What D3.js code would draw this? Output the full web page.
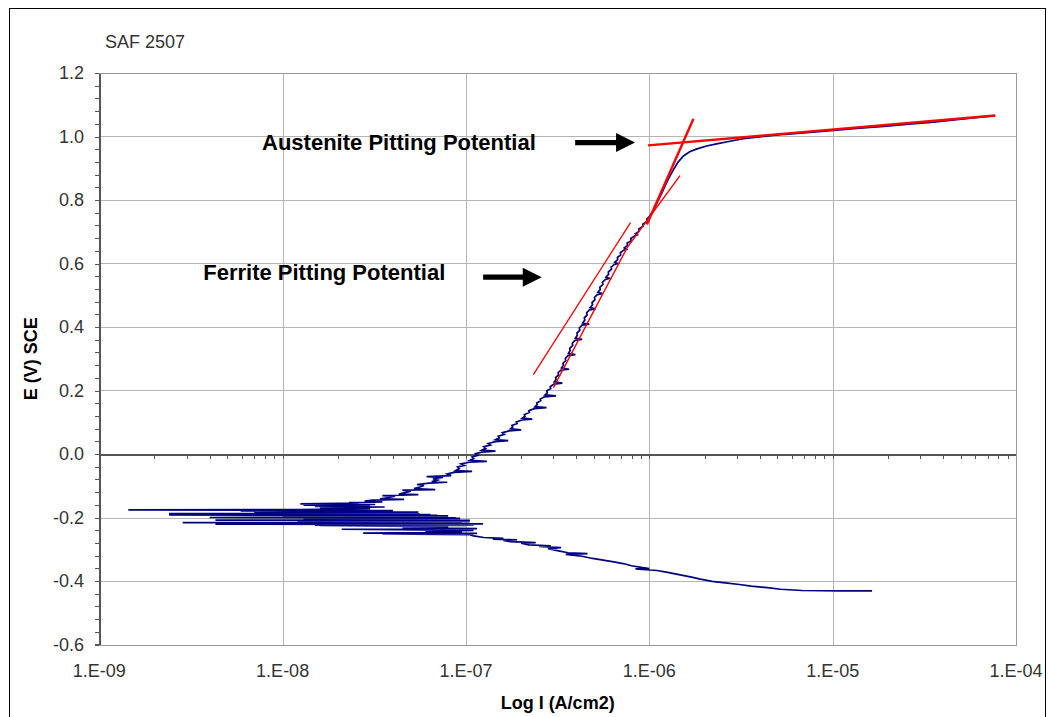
<!DOCTYPE html>
<html>
<head>
<meta charset="utf-8">
<script src="https://cdn.jsdelivr.net/npm/d3@7"></script>
<style>
  html, body { margin: 0; padding: 0; background: #fff; }
  svg { display: block; font-family: "Liberation Sans", Arial, sans-serif; }
</style>
</head>
<body>
<svg id="chart" width="1049" height="717"></svg>
<script>
// Potentiodynamic polarisation scan of SAF 2507, in scan order: [current density A/cm2, potential V SCE]
const cathodicBranch = [
  [1.64e-5,-0.431],[1.1e-5,-0.431],[6.8e-6,-0.430],[5.2e-6,-0.426],[4.4e-6,-0.421],[3.6e-6,-0.416],
  [3.1e-6,-0.411],[2.6e-6,-0.406],[2.2e-6,-0.401],[1.9e-6,-0.394],[1.7e-6,-0.388],[1.45e-6,-0.380],
  [1.24e-6,-0.372],[1.1e-6,-0.367],[8.4e-7,-0.362],[1.0e-6,-0.361],[9.2e-7,-0.358],[8.0e-7,-0.352],
  [7.2e-7,-0.345],[6.4e-7,-0.340],[5.6e-7,-0.334],[4.9e-7,-0.329],[4.3e-7,-0.322],[3.5e-7,-0.316],
  [4.6e-7,-0.314],[3.6e-7,-0.311],[3.2e-7,-0.305],[2.8e-7,-0.298],[3.3e-7,-0.295],[2.5e-7,-0.291],
  [2.9e-7,-0.289],[2.2e-7,-0.286],[2.0e-7,-0.281],[2.4e-7,-0.279],[1.75e-7,-0.276],[1.6e-7,-0.272],
  [1.9e-7,-0.270],[1.4e-7,-0.268],[1.6e-7,-0.266],[1.25e-7,-0.263],[1.1e-7,-0.258]
];
// Noisy region around the corrosion potential
const corrosionRegion = [
  [1.05e-7,-0.254],[3.5e-8,-0.252],[1.15e-7,-0.250],[2.75e-8,-0.249],[9.5e-8,-0.247],[6.0e-8,-0.244],
  [1.1e-7,-0.241],[2.1e-8,-0.237],[1.15e-7,-0.235],[4.5e-8,-0.232],[8.0e-8,-0.229],[1.6e-8,-0.226],
  [1.0e-7,-0.225],[1.5e-8,-0.224],[1.1e-7,-0.223],[2.4e-8,-0.222],[4.3e-9,-0.221],[1.24e-7,-0.220],
  [1.8e-8,-0.219],[9.5e-8,-0.218],[2.85e-9,-0.216],[9.0e-8,-0.215],[1.4e-8,-0.214],[1.05e-7,-0.213],
  [1.2e-8,-0.212],[1.0e-7,-0.211],[1.6e-8,-0.210],[1.05e-7,-0.209],[4.3e-9,-0.208],[8.5e-8,-0.207],
  [1.3e-8,-0.206],[7.5e-8,-0.205],[1.3e-8,-0.204],[9.3e-8,-0.203],[1.8e-8,-0.202],[8.8e-8,-0.201],
  [4.0e-9,-0.200],[6.5e-8,-0.199],[1.2e-8,-0.198],[5.0e-8,-0.197],[1.0e-8,-0.196],[8.0e-8,-0.195],
  [1.5e-8,-0.194],[7.0e-8,-0.193],[2.4e-9,-0.192],[6.4e-8,-0.191],[1.1e-8,-0.190],[5.6e-8,-0.189],
  [2.4e-9,-0.188],[4.4e-8,-0.187],[9.0e-9,-0.186],[5.0e-8,-0.185],[7.0e-9,-0.184],[5.5e-8,-0.183],
  [2.0e-8,-0.181],[5.9e-9,-0.179],[4.0e-8,-0.178],[1.44e-9,-0.176],[1.24e-8,-0.175],[3.0e-8,-0.172],
  [1.6e-8,-0.170],[3.6e-8,-0.167],[1.5e-8,-0.165],[3.0e-8,-0.163],[1.3e-8,-0.161],[3.2e-8,-0.159],
  [1.25e-8,-0.157],[2.6e-8,-0.155]
];
const anodicBranch = [
  [2.3e-8,-0.153],[3.5e-8,-0.151],[2.8e-8,-0.148],[3.1e-8,-0.145],[4.6e-8,-0.143],[3.4e-8,-0.141],
  [3.8e-8,-0.137],[4.1e-8,-0.133],[3.5e-8,-0.131],[5.5e-8,-0.128],[4.3e-8,-0.126],[4.7e-8,-0.121],
  [5.0e-8,-0.117],[4.5e-8,-0.114],[6.8e-8,-0.112],[5.2e-8,-0.109],[5.6e-8,-0.104],[5.9e-8,-0.099],
  [5.4e-8,-0.096],[6.3e-8,-0.092],[7.9e-8,-0.089],[6.5e-8,-0.087],[7.0e-8,-0.082],[6.6e-8,-0.078],
  [7.5e-8,-0.074],[6.1e-8,-0.071],[8.3e-8,-0.068],[7.9e-8,-0.063],[8.6e-8,-0.058],[1.08e-7,-0.055],
  [8.8e-8,-0.052],[9.2e-8,-0.046],[9.0e-8,-0.041],[9.8e-8,-0.036],[9.4e-8,-0.031],[1.04e-7,-0.026],
  [1.3e-7,-0.023],[1.05e-7,-0.020],[1.1e-7,-0.014],[1.08e-7,-0.009],[1.16e-7,-0.004],[1.13e-7,0.001],
  [1.22e-7,0.006],[1.45e-7,0.009],[1.22e-7,0.012],[1.28e-7,0.018],[1.25e-7,0.023],[1.36e-7,0.028],
  [1.32e-7,0.033],[1.45e-7,0.039],[1.7e-7,0.042],[1.45e-7,0.045],[1.52e-7,0.051],[1.5e-7,0.056],
  [1.62e-7,0.062],[1.58e-7,0.067],[1.72e-7,0.073],[2.0e-7,0.076],[1.75e-7,0.079],[1.8e-7,0.085],
  [1.78e-7,0.090],[1.9e-7,0.096],[1.88e-7,0.101],[2.02e-7,0.107],[2.3e-7,0.110],[2.03e-7,0.113],
  [2.1e-7,0.119],[2.08e-7,0.124],[2.22e-7,0.131],[2.2e-7,0.136],[2.36e-7,0.143],[2.75e-7,0.146],
  [2.38e-7,0.149],[2.45e-7,0.156],[2.43e-7,0.161],[2.56e-7,0.168],[2.54e-7,0.173],[2.68e-7,0.180],
  [3.1e-7,0.183],[2.7e-7,0.186],[2.78e-7,0.193],[2.76e-7,0.199],[2.9e-7,0.206],[2.88e-7,0.212],
  [3.02e-7,0.220],[3.35e-7,0.223],[3.03e-7,0.227],[3.1e-7,0.235],[3.08e-7,0.241],[3.2e-7,0.249],
  [3.18e-7,0.256],[3.3e-7,0.264],[3.65e-7,0.267],[3.32e-7,0.271],[3.4e-7,0.279],[3.38e-7,0.286],
  [3.5e-7,0.294],[3.48e-7,0.301],[3.6e-7,0.310],[3.95e-7,0.313],[3.62e-7,0.317],[3.7e-7,0.326],
  [3.68e-7,0.333],[3.82e-7,0.342],[3.8e-7,0.349],[3.93e-7,0.358],[4.3e-7,0.361],[3.95e-7,0.365],
  [4.05e-7,0.374],[4.03e-7,0.381],[4.18e-7,0.390],[4.15e-7,0.397],[4.3e-7,0.406],[4.7e-7,0.409],
  [4.33e-7,0.413],[4.45e-7,0.422],[4.42e-7,0.429],[4.58e-7,0.438],[4.55e-7,0.445],[4.72e-7,0.454],
  [5.1e-7,0.457],[4.75e-7,0.461],[4.9e-7,0.470],[4.87e-7,0.477],[5.05e-7,0.486],[5.02e-7,0.493],
  [5.2e-7,0.502],[5.55e-7,0.505],[5.24e-7,0.509],[5.4e-7,0.518],[5.37e-7,0.525],[5.58e-7,0.534],
  [5.55e-7,0.541],[5.77e-7,0.550],[6.05e-7,0.553],[5.8e-7,0.557],[6.0e-7,0.566],[5.97e-7,0.573],
  [6.22e-7,0.582],[6.19e-7,0.589],[6.45e-7,0.597],[6.72e-7,0.600],[6.48e-7,0.604],[6.72e-7,0.612],
  [6.7e-7,0.619],[6.98e-7,0.627],[6.95e-7,0.634],[7.25e-7,0.642],[7.5e-7,0.645],[7.3e-7,0.649],
  [7.6e-7,0.657],[7.57e-7,0.664],[7.95e-7,0.672],[7.92e-7,0.679],[8.35e-7,0.687],[8.6e-7,0.690],
  [8.4e-7,0.694],[8.8e-7,0.702],[8.77e-7,0.709],[9.25e-7,0.717],[9.22e-7,0.724],[9.7e-7,0.732],
  [9.68e-7,0.739],[1.0e-6,0.748],[1.04e-6,0.762],[1.08e-6,0.780],[1.12e-6,0.800],[1.17e-6,0.822],
  [1.22e-6,0.845],[1.28e-6,0.870],[1.35e-6,0.894],[1.43e-6,0.918],[1.53e-6,0.938],[1.66e-6,0.952],
  [1.82e-6,0.961],[2.05e-6,0.970],[2.33e-6,0.977],[2.75e-6,0.985],[3.26e-6,0.993],[4.2e-6,1.000],
  [5.5e-6,1.007],[7.5e-6,1.013],[1.01e-5,1.019],[1.4e-5,1.026],[1.9e-5,1.032],[2.6e-5,1.039],
  [3.55e-5,1.045],[4.6e-5,1.052],[6.0e-5,1.059],[7.7e-5,1.066]
];

// Tangent constructions used to locate the pitting potentials
const austeniteTangent = [[9.85e-7,0.972],[7.7e-5,1.066]];
const steepTangent     = [[9.7e-7,0.723],[1.74e-6,1.056]];
const ferriteTangent   = [[2.33e-7,0.250],[7.9e-7,0.729]];
const passiveFit       = [[3.0e-7,0.209],[7.57e-7,0.650],[1.47e-6,0.877]];

// Axis ticks
const yTicks = [-0.6,-0.4,-0.2,0.0,0.2,0.4,0.6,0.8,1.0,1.2];
const xTicks = [1e-9,1e-8,1e-7,1e-6,1e-5,1e-4];
const xTickLabels = ["1.E-09","1.E-08","1.E-07","1.E-06","1.E-05","1.E-04"];

// Labelled arrows: text anchor and arrow tail/tip in data units
const annotations = [
  {text:"Austenite Pitting Potential", textAt:[7.72e-9,0.959], tail:[3.94e-7,0.981], tip:[8.36e-7,0.981]},
  {text:"Ferrite Pitting Potential",   textAt:[3.69e-9,0.5496], tail:[1.24e-7,0.557], tip:[2.59e-7,0.557]}
];

const svg = d3.select("#chart");
const plot = {left: 99.3, right: 1016, top: 73, bottom: 644.5};

const x = d3.scaleLog().domain([1e-9, 1e-4]).range([plot.left, plot.right]);
const y = d3.scaleLinear().domain([-0.6, 1.2]).range([plot.bottom, plot.top]);

// Outer chart frame
svg.append("rect")
  .attr("x", 9.5).attr("y", 8.5).attr("width", 1036).attr("height", 730)
  .attr("fill", "#fff").attr("stroke", "#000").attr("stroke-width", 1);

// Title
svg.append("text").attr("x", 105).attr("y", 48)
  .attr("font-size", 18).attr("fill", "#333").text("SAF 2507");

// Gridlines
const grid = svg.append("g").attr("stroke", "#b4b4b4").attr("stroke-width", 1).attr("shape-rendering", "crispEdges");
grid.selectAll(".gy").data(yTicks.filter(v => v !== 0)).join("line")
  .attr("x1", plot.left).attr("x2", plot.right)
  .attr("y1", d => Math.round(y(d)) + 0.5).attr("y2", d => Math.round(y(d)) + 0.5);
grid.selectAll(".gx").data(xTicks.slice(1)).join("line")
  .attr("y1", plot.top).attr("y2", plot.bottom)
  .attr("x1", d => Math.round(x(d)) + 0.5).attr("x2", d => Math.round(x(d)) + 0.5);

// Y axis with minor ticks every 0.04
const yAxis = d3.axisLeft(y)
  .tickValues(d3.range(-0.6, 1.2001, 0.04).map(v => +v.toFixed(2)))
  .tickSize(5).tickFormat("");
const yg = svg.append("g").attr("transform", `translate(${Math.round(plot.left) + 0.5},0)`).call(yAxis);
yg.selectAll("path,line").attr("stroke", "#555").attr("shape-rendering", "crispEdges");
yg.select(".domain").attr("stroke-width", 1.3);

svg.append("g").selectAll("text").data(yTicks).join("text")
  .attr("x", 84).attr("y", d => y(d)).attr("dy", "0.36em")
  .attr("text-anchor", "end").attr("font-size", 18).attr("fill", "#333")
  .text(d => d.toFixed(1));

// X axis drawn along E = 0 with log minor ticks
const minorX = [];
for (let e = -9; e < -4; e++) for (let k = 1; k < 10; k++) minorX.push(k * Math.pow(10, e));
minorX.push(1e-4);
const xAxis = d3.axisBottom(x).tickValues(minorX).tickSize(4).tickFormat("");
const xg = svg.append("g").attr("transform", `translate(0,${Math.round(y(0)) + 0.5})`).call(xAxis);
xg.selectAll("path,line").attr("stroke", "#555").attr("shape-rendering", "crispEdges");
xg.select(".domain").attr("stroke-width", 1.6);

svg.append("g").selectAll("text").data(xTicks).join("text")
  .attr("x", d => x(d)).attr("y", 671).attr("dy", "0.36em")
  .attr("text-anchor", "middle").attr("font-size", 18).attr("fill", "#333")
  .text((d, i) => xTickLabels[i]);

// Plot-area border (top, right, bottom)
svg.append("path")
  .attr("d", `M${plot.left},${Math.round(plot.top)+0.5}H${Math.round(plot.right)+0.5}V${Math.round(plot.bottom)+0.5}H${plot.left}`)
  .attr("fill", "none").attr("stroke", "#999").attr("stroke-width", 1).attr("shape-rendering", "crispEdges");

// Axis titles
svg.append("text").attr("x", (plot.left + plot.right) / 2).attr("y", 709)
  .attr("text-anchor", "middle").attr("font-size", 18).attr("font-weight", "bold").text("Log I (A/cm2)");
svg.append("text")
  .attr("transform", `translate(37,${(plot.top + plot.bottom) / 2}) rotate(-90)`)
  .attr("text-anchor", "middle").attr("font-size", 18).attr("font-weight", "bold").text("E (V) SCE");

// Polarisation curve
const line = d3.line().x(d => x(d[0])).y(d => y(d[1]));
const scan = cathodicBranch.concat(corrosionRegion, anodicBranch);
svg.append("path").datum(scan)
  .attr("d", line).attr("fill", "none").attr("stroke", "#000080")
  .attr("stroke-width", 1.7).attr("stroke-linejoin", "miter");

// Tangent constructions
const tangents = [
  {pts: austeniteTangent, w: 2.4},
  {pts: steepTangent, w: 2.4},
  {pts: ferriteTangent, w: 1.3},
  {pts: passiveFit, w: 1.4}
];
svg.append("g").selectAll("path").data(tangents).join("path")
  .attr("d", d => line(d.pts)).attr("fill", "none")
  .attr("stroke", "#ff0000").attr("stroke-width", d => d.w);

// Annotations with arrows
const ann = svg.append("g");
ann.selectAll("text").data(annotations).join("text")
  .attr("x", d => x(d.textAt[0])).attr("y", d => y(d.textAt[1]))
  .attr("font-size", 22).attr("font-weight", "bold").attr("fill", "#000")
  .text(d => d.text);
ann.selectAll("path").data(annotations).join("path")
  .attr("fill", "#000")
  .attr("d", d => {
    const x0 = x(d.tail[0]), x1 = x(d.tip[0]), yy = y(d.tip[1]);
    const hl = 19, hh = 9.5, sw = 2.6;
    return `M${x0},${yy - sw}H${x1 - hl}V${yy - hh}L${x1},${yy}L${x1 - hl},${yy + hh}V${yy + sw}H${x0}Z`;
  });
</script>
</body>
</html>
